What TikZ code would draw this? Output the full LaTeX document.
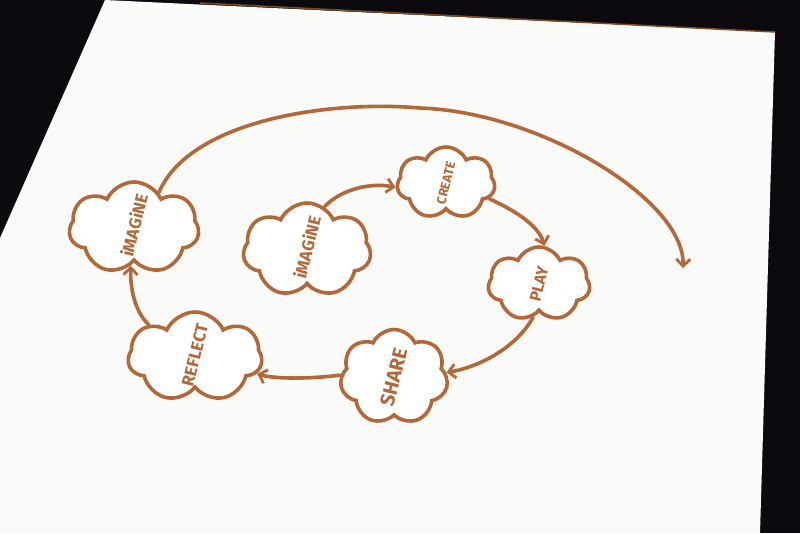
\documentclass[tikz,border=0pt]{standalone}
\usepackage{fontspec}
\setmainfont{Fira Sans}
\usetikzlibrary{shapes.symbols,arrows.meta}
\definecolor{ink}{RGB}{178,104,56}
\definecolor{screen}{RGB}{250,250,248}
\definecolor{dark}{RGB}{12,10,14}
\begin{document}
\begin{tikzpicture}[x=1pt,y=-1pt,
  puff/.style={cloud, cloud puffs=7, cloud puff arc=130, draw=ink, line width=3.6pt, fill=white, inner sep=0pt},
  word/.style={text=ink, rotate=76, inner sep=0pt, font=\bfseries\fontsize{#1}{#1}\selectfont},
  arr/.style={draw=ink, line width=3.6pt, line cap=round, -{Straight Barb[length=7pt,width=14pt,line width=2.8pt]}}
]
\useasboundingbox (0,0) rectangle (800,533);
\fill[dark] (0,0) rectangle (800,533);
\fill[screen] (105,0) -- (775,32) -- (760,533) -- (0,533) -- (0,238) -- cycle;
\draw[ink!70!black, line width=1.5pt] (200,3) -- (775,32);

% clouds
\node[puff, minimum width=130pt, minimum height=92pt] (imA) at (134,228) {};
\node[puff, minimum width=128pt, minimum height=94pt] (imB) at (307,250) {};
\node[puff, minimum width=98pt, minimum height=72pt] (cre) at (446,183) {};
\node[puff, minimum width=102pt, minimum height=74pt] (ply) at (539,284) {};
\node[puff, minimum width=108pt, minimum height=95pt] (shr) at (394,377) {};
\node[puff, minimum width=134pt, minimum height=90pt] (ref) at (195,357) {};

% words
\node[word=17] (imAt) at ([yshift=3pt]imA.center) {iMAGiNE};
\node[word=17] (imBt) at ([yshift=3pt]imB.center) {iMAGiNE};
\node[word=13] (cret) at (cre.center) {CREATE};
\node[word=16] (plyt) at (ply.center) {PLAY};
\node[word=20] (shrt) at (shr.center) {SHARE};
\node[word=17] (reft) at ([yshift=2pt]ref.center) {REFLECT};

% connectors
\coordinate (tip) at (683,268);
\draw[arr] (imA.55) .. controls (190,120) and (330,100) .. (420,108)
                    .. controls (540,112) and (685,200) .. (tip);
\draw[arr] (imB.68) .. controls (340,190) and (370,182) .. (cre.185);
\draw[arr] (cre.-20) .. controls (525,215) and (540,230) .. (ply.82);
\draw[arr] (ply.-100) .. controls (515,350) and (475,368) .. (shr.5);
\draw[arr] (shr.178) .. controls (300,380) and (270,378) .. (ref.-15);
\draw[arr] (ref.145) .. controls (138,315) and (130,295) .. (imA.-95);
\end{tikzpicture}
\end{document}
